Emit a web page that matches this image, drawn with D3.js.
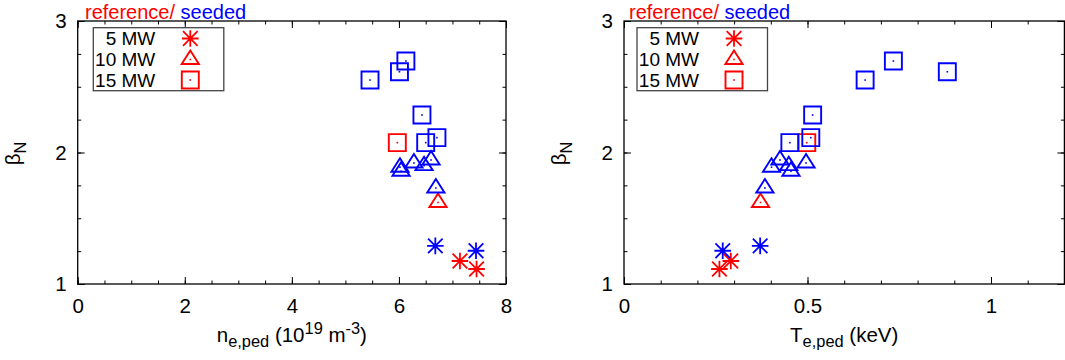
<!DOCTYPE html>
<html><head><meta charset="utf-8">
<script src="https://cdn.jsdelivr.net/npm/d3@7"></script>
<style>
html,body{margin:0;padding:0;background:#fff;}
svg{display:block;font-family:"Liberation Sans",Arial,sans-serif;}
</style></head>
<body><svg id="c" width="1065" height="360"></svg>
<script>
// ---------- data ----------
const powerLabels = ["5 MW", "10 MW", "15 MW"];
const yTickValues = [1, 2, 3];
const neTickValues = [0, 2, 4, 6, 8];
const teTickValues = [0, 0.5, 1];

// reference (red)
const refBeta5  = [1.175, 1.114];
const refNe5    = [7.14, 7.45];
const refTe5    = [0.291, 0.260];
const refBeta10 = [1.62];
const refNe10   = [6.73];
const refTe10   = [0.372];
const refBeta15 = [2.075];
const refNe15   = [5.97];
const refTe15   = [0.498];

// seeded (blue)
const seedBeta5  = [1.29, 1.253];
const seedNe5    = [6.68, 7.44];
const seedTe5    = [0.371, 0.269];
const seedBeta10 = [1.943, 1.92, 1.90, 1.888, 1.857, 1.73];
const seedNe10   = [6.60, 6.28, 6.47, 6.02, 6.04, 6.69];
const seedTe10   = [0.425, 0.496, 0.449, 0.402, 0.455, 0.384];
const seedBeta15 = [2.551, 2.614, 2.696, 2.285, 2.075, 2.113];
const seedNe15   = [5.46, 6.01, 6.13, 6.43, 6.50, 6.71];
const seedTe15   = [0.657, 0.881, 0.734, 0.514, 0.452, 0.509];

// ---------- setup ----------
const RED = "#ff0000", BLUE = "#0000ff";
const FONT = 20.5;
const svg = d3.select("#c");
const yTop = 21, yBot = 284;
const y = d3.scaleLinear().domain([1, 3]).range([yBot, yTop]);

// marker path builders (pixel offsets only define the glyph shape)
function starPath(cx, cy) {
  const s = 8.3, d = 7.3;
  return `M${cx - s},${cy}L${cx + s},${cy}M${cx},${cy - s}L${cx},${cy + s}` +
         `M${cx - d},${cy - d}L${cx + d},${cy + d}M${cx - d},${cy + d}L${cx + d},${cy - d}`;
}
function triPath(cx, cy) {
  const w = 8.6, up = 9, dn = 4.5;
  return `M${cx},${cy - up}L${cx + w},${cy + dn}L${cx - w},${cy + dn}Z`;
}
function sqPath(cx, cy) {
  const h = 8.5;
  return `M${cx - h},${cy - h}L${cx + h},${cy - h}L${cx + h},${cy + h}L${cx - h},${cy + h}Z`;
}
function drawMarker(g, kind, cx, cy, color) {
  if (kind === 0) {
    g.append("path").attr("d", starPath(cx, cy)).attr("stroke", color)
      .attr("stroke-width", 1.8).attr("fill", "none");
  } else {
    g.append("path").attr("d", kind === 1 ? triPath(cx, cy) : sqPath(cx, cy))
      .attr("stroke", color).attr("stroke-width", 1.9).attr("fill", "none");
    g.append("rect").attr("x", cx - 0.8).attr("y", cy - 0.8).attr("width", 1.6)
      .attr("height", 1.6).attr("fill", color);
  }
}

function panel(opts) {
  const { x0, x1, domain, major, minorStep, xVals, xTitle, xFmt, legendX, titleX } = opts;
  const x = d3.scaleLinear().domain(domain).range([x0, x1]);
  const g = svg.append("g");
  const minor = d3.range(domain[0], domain[1] + 1e-9, minorStep);

  // minor ticks (all four sides)
  g.append("g").attr("transform", `translate(0,${yBot})`)
    .call(d3.axisBottom(x).tickValues(minor).tickSize(-3.5).tickFormat(""));
  g.append("g").attr("transform", `translate(0,${yTop})`)
    .call(d3.axisTop(x).tickValues(minor).tickSize(-3.5).tickFormat(""));
  const yMinor = d3.range(1, 3.0001, 0.25);
  g.append("g").attr("transform", `translate(${x0},0)`)
    .call(d3.axisLeft(y).tickValues(yMinor).tickSize(-3.5).tickFormat(""));
  g.append("g").attr("transform", `translate(${x1},0)`)
    .call(d3.axisRight(y).tickValues(yMinor).tickSize(-3.5).tickFormat(""));

  // major ticks
  const xb = g.append("g").attr("transform", `translate(0,${yBot})`)
    .call(d3.axisBottom(x).tickValues(major).tickSize(-7).tickFormat(xFmt));
  xb.selectAll("text").attr("y", 29).attr("dy", null);
  g.append("g").attr("transform", `translate(0,${yTop})`)
    .call(d3.axisTop(x).tickValues(major).tickSize(-7).tickFormat(""));
  const yl = g.append("g").attr("transform", `translate(${x0},0)`)
    .call(d3.axisLeft(y).tickValues(yTickValues).tickSize(-7).tickFormat(d3.format("d")));
  yl.selectAll("text").attr("x", -11).attr("dy", "0.33em");
  g.append("g").attr("transform", `translate(${x1},0)`)
    .call(d3.axisRight(y).tickValues(yTickValues).tickSize(-7).tickFormat(""));

  g.selectAll(".domain").remove();
  g.selectAll(".tick line").attr("stroke", "#000").attr("stroke-width", 1);
  g.selectAll(".tick text").attr("font-size", FONT).attr("fill", "#000")
    .attr("font-family", "Liberation Sans, Arial, sans-serif");

  // frame
  g.append("rect").attr("x", x0).attr("y", yTop).attr("width", x1 - x0)
    .attr("height", yBot - yTop).attr("fill", "none").attr("stroke", "#000")
    .attr("stroke-width", 1.3);

  // y label  beta_N
  const yt = g.append("text")
    .attr("transform", `translate(${x0 - 58},${y(2) + 1}) rotate(-90)`)
    .attr("text-anchor", "middle").attr("font-size", FONT);
  yt.append("tspan").text("β");
  yt.append("tspan").attr("font-size", FONT * 0.8).attr("dy", 6).text("N");

  // x title
  xTitle(g.append("text").attr("x", (x0 + x1) / 2).attr("y", 342)
    .attr("text-anchor", "middle").attr("font-size", FONT));

  // series title
  const tt = g.append("text").attr("x", titleX).attr("y", 19).attr("font-size", 20);
  tt.append("tspan").attr("fill", RED).text("reference/");
  tt.append("tspan").attr("fill", BLUE).text(" seeded");

  // points
  const pts = g.append("g");
  const series = [
    [0, refBeta5, xVals.ref5, RED], [1, refBeta10, xVals.ref10, RED], [2, refBeta15, xVals.ref15, RED],
    [0, seedBeta5, xVals.seed5, BLUE], [1, seedBeta10, xVals.seed10, BLUE], [2, seedBeta15, xVals.seed15, BLUE]
  ];
  series.forEach(([k, bs, xs, col]) => {
    bs.forEach((b, i) => drawMarker(pts, k, x(xs[i]), y(b), col));
  });

  // legend
  const lg = g.append("g");
  const lx = legendX;
  lg.append("rect").attr("x", lx).attr("y", 27.7).attr("width", 130.5).attr("height", 63)
    .attr("fill", "#fff").attr("stroke", "#444").attr("stroke-width", 1.3);
  const rowY = [38.5, 59.5, 80];
  powerLabels.forEach((lab, i) => {
    lg.append("text").attr("x", lx + 62).attr("y", rowY[i] + 6.5)
      .attr("text-anchor", "end").attr("font-size", 19).text(lab);
    drawMarker(lg, i, lx + 97, rowY[i], RED);
  });
}

panel({
  x0: 77.7, x1: 506, domain: [0, 8], major: neTickValues, minorStep: 0.5,
  legendX: 93.3, titleX: 85,
  xFmt: d3.format("d"),
  xVals: { ref5: refNe5, ref10: refNe10, ref15: refNe15, seed5: seedNe5, seed10: seedNe10, seed15: seedNe15 },
  xTitle: t => {
    t.append("tspan").text("n");
    t.append("tspan").attr("font-size", FONT * 0.8).attr("dy", 5).text("e,ped");
    t.append("tspan").attr("dy", -5).text(" (10");
    t.append("tspan").attr("font-size", FONT * 0.8).attr("dy", -8).text("19");
    t.append("tspan").attr("dy", 8).text(" m");
    t.append("tspan").attr("font-size", FONT * 0.8).attr("dy", -8).text("-3");
    t.append("tspan").attr("dy", 8).text(")");
  }
});

panel({
  x0: 624, x1: 1064.4, domain: [0, 1.2], major: teTickValues, minorStep: 0.1,
  legendX: 637, titleX: 629,
  xFmt: d => d === 0.5 ? "0.5" : d3.format("d")(d),
  xVals: { ref5: refTe5, ref10: refTe10, ref15: refTe15, seed5: seedTe5, seed10: seedTe10, seed15: seedTe15 },
  xTitle: t => {
    t.append("tspan").text("T");
    t.append("tspan").attr("font-size", FONT * 0.8).attr("dy", 5).text("e,ped");
    t.append("tspan").attr("dy", -5).text(" (keV)");
  }
});
</script></body></html>
